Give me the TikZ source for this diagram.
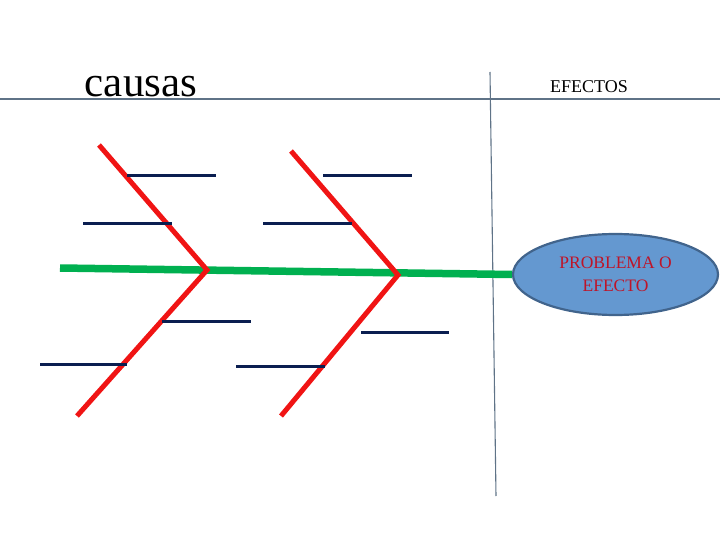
\documentclass[tikz,border=0pt]{standalone}
\usepackage{fontspec}
\setmainfont{Liberation Serif}
\usetikzlibrary{shapes.geometric}
\definecolor{axisgray}{RGB}{95,115,135}
\definecolor{spine}{RGB}{0,176,80}
\definecolor{bone}{RGB}{240,20,20}
\definecolor{twig}{RGB}{10,30,80}
\definecolor{ellfill}{RGB}{100,152,208}
\definecolor{elldraw}{RGB}{65,100,140}
\definecolor{elltext}{RGB}{190,20,40}
\tikzset{
  axis/.style={draw=axisgray,line width=1.1pt},
  spineline/.style={draw=spine,line width=7.5pt},
  boneline/.style={draw=bone,line width=5pt},
  twigline/.style={draw=twig,line width=3pt},
}
\begin{document}
\begin{tikzpicture}[x=1pt,y=-1pt]
\useasboundingbox (0,0) rectangle (720,540);
% axes
\coordinate (hl) at (0,99);
\coordinate (hr) at (720,99);
\coordinate (vt) at (490,72);
\coordinate (vb) at (496,496);
\draw[axis] (hl) -- (hr);
\draw[axis] (vt) -- (vb);
% titles
\node[anchor=base,font=\fontsize{43}{43}\selectfont,inner sep=0pt] (causas) at (141,97) {causas};
\node[anchor=base,font=\fontsize{18}{18}\selectfont,inner sep=0pt] (efectos) at (589,93) {EFECTOS};
% problem ellipse
\node[ellipse,draw=elldraw,line width=2.2pt,fill=ellfill,minimum width=205pt,minimum height=81pt,inner sep=0pt,
      align=center,text=elltext,font=\fontsize{17.5}{23}\selectfont] (prob) at (615.5,274.5) {PROBLEMA O\\EFECTO};
% spine
\coordinate (tail) at (60,268);
\draw[spineline] (tail) -- (prob.west);
% bones
\coordinate (a1) at (99,145);
\coordinate (v1) at (207,270);
\coordinate (b1) at (77,416);
\coordinate (a2) at (291,151);
\coordinate (v2) at (398,275);
\coordinate (b2) at (281,416);
\draw[boneline,line join=miter] (a1) -- (v1) -- (b1);
\draw[boneline,line join=miter] (a2) -- (v2) -- (b2);
% twigs
\coordinate (t1a) at (127,176); \coordinate (t1b) at (216,176);
\coordinate (t2a) at (83,224);  \coordinate (t2b) at (172,224);
\coordinate (t3a) at (162,321); \coordinate (t3b) at (251,321);
\coordinate (t4a) at (40,364);  \coordinate (t4b) at (127,364);
\coordinate (t5a) at (323,176); \coordinate (t5b) at (412,176);
\coordinate (t6a) at (263,224); \coordinate (t6b) at (352,224);
\coordinate (t7a) at (361,332); \coordinate (t7b) at (449,332);
\coordinate (t8a) at (236,366); \coordinate (t8b) at (325,366);
\foreach \i in {1,...,8} {\draw[twigline] (t\i a) -- (t\i b);}
\end{tikzpicture}
\end{document}
